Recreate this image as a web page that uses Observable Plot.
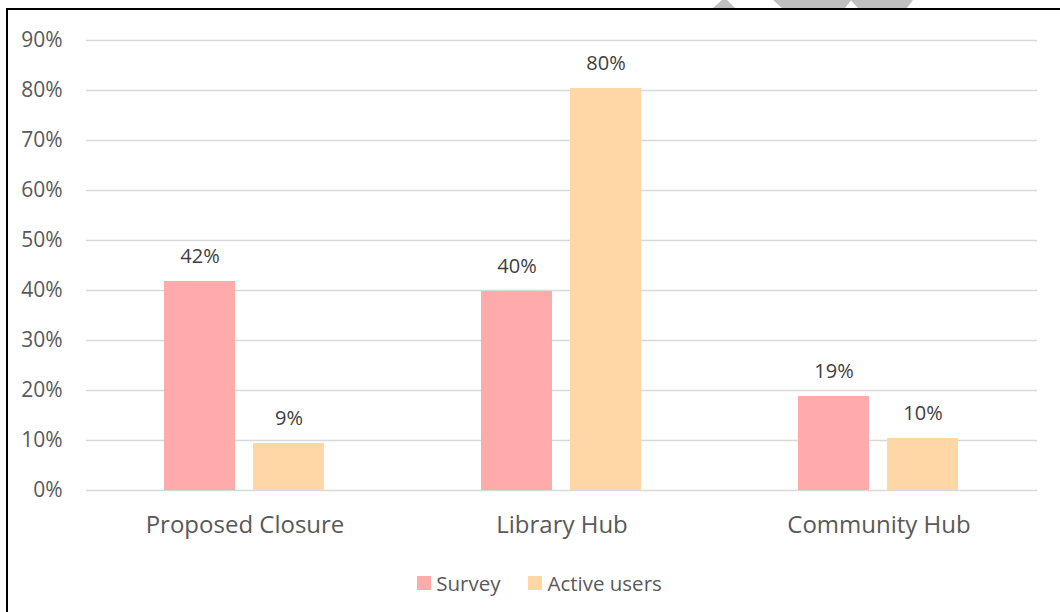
<!DOCTYPE html>
<html>
<head>
<meta charset="utf-8">
<script src="https://cdn.jsdelivr.net/npm/d3@7"></script>
<script src="https://cdn.jsdelivr.net/npm/@observablehq/plot@0.6"></script>
<style>
  html, body { margin: 0; padding: 0; background: #fff; }
  #wrap { position: relative; width: 1060px; height: 612px; overflow: hidden; font-family: "Open Sans", sans-serif; }
  #frame { position: absolute; left: 5.5px; top: 7.5px; width: 1200px; height: 800px; border-left: 2.5px solid #000; border-top: 2.5px solid #000; }
  .wm { position: absolute; top: 0; height: 8px; background: #c0c0c0; }
  #chart { position: absolute; left: 0; top: 0; }
  #legend { position: absolute; left: 0; width: 1060px; padding-left: 19px; box-sizing: border-box; top: 569px; display: flex; justify-content: center; align-items: center; font-size: 20.5px; color: #595959; font-family: "Open Sans", sans-serif; }
  #legend .item { display: flex; align-items: center; margin: 0 14px; }
  #legend .sw { width: 14px; height: 14px; margin-right: 5px; }
</style>
</head>
<body>
<div id="wrap">
  <div class="wm" style="left:713px;width:24px;clip-path:polygon(9px 0,14px 0,22px 8px,0 8px);"></div>
  <div class="wm" style="left:773px;width:140px;clip-path:polygon(0 0,140px 0,134px 8px,85px 8px,78px 0.5px,72px 8px,9px 8px);"></div>
  <div id="frame"></div>
  <div id="chart"></div>
  <div id="legend"></div>
</div>
<script>
const categories = ["Proposed Closure", "Library Hub", "Community Hub"];
const series = ["Survey", "Active users"];
const survey = [41.8, 39.8, 18.8];
const activeUsers = [9.4, 80.4, 10.4];
const yTicks = [0, 10, 20, 30, 40, 50, 60, 70, 80, 90];
const colors = ["#ffabab", "#ffd6a5"];

const data = categories.flatMap((c, i) => [
  {category: c, series: series[0], value: survey[i]},
  {category: c, series: series[1], value: activeUsers[i]}
]);

const chart = Plot.plot({
  width: 1060,
  height: 545,
  marginLeft: 85,
  marginRight: 23,
  marginTop: 40,
  marginBottom: 55,
  style: {fontFamily: "Open Sans, sans-serif", background: "transparent", color: "#595959"},
  fx: {domain: categories, padding: 0, label: null},
  x: {domain: series, paddingInner: 0.2, paddingOuter: 0.863, axis: null},
  y: {domain: [0, 90], label: null},
  color: {domain: series, range: colors},
  marks: [
    Plot.gridY(yTicks, {stroke: "#d9d9d9", strokeOpacity: 1, strokeWidth: 1.5}),
    Plot.barY(data, {fx: "category", x: "series", y: "value", fill: "series"}),
    Plot.text(data, {fx: "category", x: "series", y: "value", text: d => Math.round(d.value) + "%", dy: -25, fontSize: 20, fill: "#404040"}),
    Plot.axisY({ticks: yTicks, tickFormat: d => d + "%", tickSize: 0, tickPadding: 24, fontSize: 21, label: null, fill: "#595959"}),
    Plot.axisFx({anchor: "bottom", tickSize: 0, tickPadding: 25, fontSize: 24, label: null, fill: "#595959"})
  ]
});
document.getElementById("chart").appendChild(chart);

const legend = d3.select("#legend");
series.forEach((s, i) => {
  const item = legend.append("div").attr("class", "item");
  item.append("div").attr("class", "sw").style("background", colors[i]);
  item.append("span").text(s);
});
</script>
</body>
</html>
